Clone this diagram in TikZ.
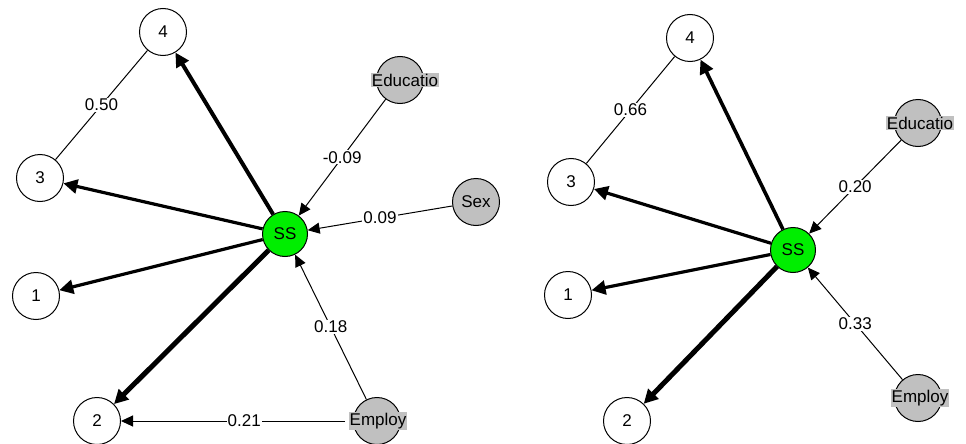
\documentclass[tikz,border=0pt]{standalone}
\usepackage{fontspec}
\setmainfont{Liberation Sans}
\usetikzlibrary{arrows.meta}
\definecolor{ssgreen}{RGB}{0,238,0}
\definecolor{exgray}{RGB}{192,192,192}
\tikzset{
  every node/.style={font=\fontsize{17}{19}\selectfont},
  outc/.style={circle,draw,line width=1pt,fill=white,minimum size=47pt,inner sep=0pt},
  ssc/.style={circle,draw,line width=1pt,fill=ssgreen,minimum size=45pt,inner sep=0pt},
  exc/.style={circle,draw,line width=1pt,fill=exgray,minimum size=47pt,inner sep=0pt},
  exlbl/.style={fill=exgray,inner sep=1pt},
  thin/.style={line width=1pt,-{Triangle[length=12pt,width=11pt]}},
  plain/.style={line width=1pt},
  heavy/.style={-{Triangle[length=14pt,width=14pt]}},
  wlbl/.style={fill=white,inner sep=1pt}
}
\begin{document}
\begin{tikzpicture}[x=1pt,y=-1pt]
\useasboundingbox (0,0) rectangle (966,444);
% ---------- left panel ----------
\node[outc] (l4) at (163,32) {4};
\node[outc] (l3) at (40,178) {3};
\node[outc] (l1) at (36,296) {1};
\node[outc] (l2) at (97,421) {2};
\node[ssc] (lss) at (285,234) {SS};
\node[exc] (ledu) at (400,80) {};
\node[exlbl] at (405,80) {Educatio};
\node[exc] (lsex) at (476,202) {Sex};
\node[exc] (lemp) at (377,421) {};
\node[exlbl] at (378,421) {Employ};
\draw[heavy,line width=4pt] (lss) -- (l4);
\draw[heavy,line width=3.2pt] (lss) -- (l3);
\draw[heavy,line width=3.2pt] (lss) -- (l1);
\draw[heavy,line width=5pt] (lss) -- (l2);
\draw[plain] (l3) -- node[wlbl] {0.50} (l4);
\draw[thin] (ledu) -- node[wlbl] {-0.09} (lss);
\draw[thin] (lsex) -- node[wlbl] {0.09} (lss);
\draw[thin] (lemp) -- node[wlbl] {0.18} (lss);
\draw[thin] (lemp.west) ++(-8,0) coordinate (le) (le) -- node[wlbl,pos=0.45] {0.21} (l2);
% ---------- right panel ----------
\node[outc] (r4) at (690,38) {4};
\node[outc] (r3) at (571,182) {3};
\node[outc] (r1) at (568,295) {1};
\node[outc] (r2) at (627,421) {2};
\node[ssc] (rss) at (793,250) {SS};
\node[exc] (redu) at (918,123) {};
\node[exlbl] at (920,123) {Educatio};
\node[exc] (remp) at (918,398) {};
\node[exlbl] at (920,398) {Employ};
\draw[heavy,line width=3.6pt] (rss) -- (r4);
\draw[heavy,line width=3.2pt] (rss) -- (r3);
\draw[heavy,line width=3.2pt] (rss) -- (r1);
\draw[heavy,line width=5pt] (rss) -- (r2);
\draw[plain] (r3) -- node[wlbl] {0.66} (r4);
\draw[thin] (redu) -- node[wlbl] {0.20} (rss);
\draw[thin] (remp) -- node[wlbl] {0.33} (rss);
\end{tikzpicture}
\end{document}
